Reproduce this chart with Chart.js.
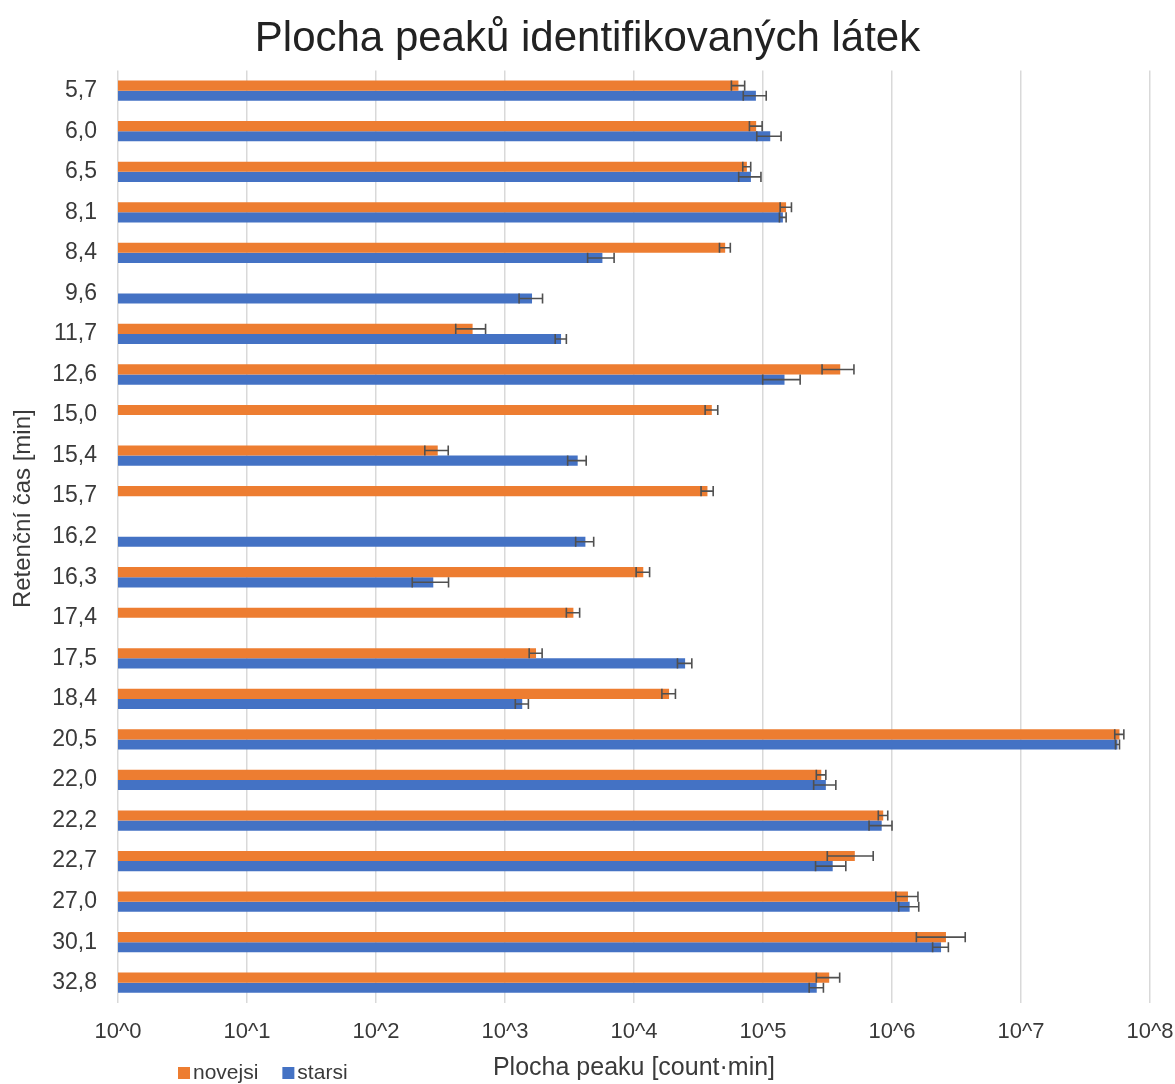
<!DOCTYPE html>
<html lang="cs">
<head>
<meta charset="utf-8">
<title>Plocha peaků identifikovaných látek</title>
<script src="https://cdn.jsdelivr.net/npm/chart.js@4.4.1/dist/chart.umd.min.js"></script>
<style>
  html, body { margin: 0; padding: 0; background: #ffffff; }
  #wrap { width: 1175px; height: 1084px; }
  canvas { display: block; }
</style>
</head>
<body>
<div id="wrap"><canvas id="chart" width="1175" height="1084"></canvas></div>
<script>
// Retention times (min) of the identified compounds
const categories = ['5,7', '6,0', '6,5', '8,1', '8,4', '9,6', '11,7', '12,6', '15,0', '15,4', '15,7',
  '16,2', '16,3', '17,4', '17,5', '18,4', '20,5', '22,0', '22,2', '22,7', '27,0', '30,1', '32,8'];

const seriesNames = ['novejsi', 'starsi'];

// Peak areas [count·min]; null = compound not found in that sample
const novejsi = [64500, 88500, 75000, 151000, 50900, null, 561, 397000, 40100, 301, 37100,
  null, 11800, 3390, 1740, 18700, 58000000, 283000, 855000, 515000, 1330000, 2620000, 326000];
const novejsiErr = [7600, 10000, 5300, 15200, 4900, null, 146, 110000, 4500, 62, 4000,
  null, 1410, 400, 200, 2250, 4700000, 24000, 72000, 200000, 259000, 1075000, 67000];

const starsi = [88100, 113800, 80600, 142600, 5690, 1620, 2720, 146800, null, 3660, null,
  4200, 278, null, 24900, 1360, 56000000, 307000, 832000, 347000, 1370000, 2400000, 261000];
const starsiErr = [17800, 24300, 15800, 8500, 1320, 334, 270, 47300, null, 600, null,
  670, 87, null, 3170, 158, 2000000, 60000, 168000, 91500, 242000, 335000, 33000];

// Logarithmic axis: one tick per decade
const xTickValues = [1, 10, 100, 1000, 10000, 100000, 1000000, 10000000, 100000000];
const xTickLabels = ['10^0', '10^1', '10^2', '10^3', '10^4', '10^5', '10^6', '10^7', '10^8'];

const chartTitle = 'Plocha peaků identifikovaných látek';
const xTitle = 'Plocha peaku [count·min]';
const yTitle = 'Retenční čas [min]';

const FONT = "'Liberation Sans', Arial, sans-serif";
const TEXT = '#3a3a3a';

// Whiskers: value ± error, with end caps
const errorBars = {
  id: 'errorBars',
  afterDatasetsDraw(chart) {
    const { ctx } = chart;
    const xs = chart.scales.x;
    ctx.save();
    ctx.strokeStyle = '#505050';
    ctx.lineWidth = 1.6;
    chart.data.datasets.forEach((ds, di) => {
      const meta = chart.getDatasetMeta(di);
      if (meta.hidden) return;
      meta.data.forEach((el, i) => {
        const v = ds.data[i];
        const e = ds.errors[i];
        if (v == null || e == null) return;
        const y = el.y;
        const h = el.height * 0.5;
        const lo = Math.max(v - e, xs.min);
        const xl = xs.getPixelForValue(lo);
        const xr = xs.getPixelForValue(v + e);
        ctx.beginPath();
        ctx.moveTo(xl, y); ctx.lineTo(xr, y);
        ctx.moveTo(xl, y - h); ctx.lineTo(xl, y + h);
        ctx.moveTo(xr, y - h); ctx.lineTo(xr, y + h);
        ctx.stroke();
      });
    });
    ctx.restore();
  }
};

// Vertical axis title and the legend row beside the horizontal axis title
const extras = {
  id: 'extras',
  afterDraw(chart) {
    const { ctx, chartArea } = chart;
    ctx.save();
    ctx.fillStyle = TEXT;
    ctx.font = '24px ' + FONT;
    ctx.textAlign = 'center';
    ctx.textBaseline = 'middle';
    ctx.translate(23, (chartArea.top + chartArea.bottom) / 2 - 28);
    ctx.rotate(-Math.PI / 2);
    ctx.fillText(yTitle, 0, 0);
    ctx.restore();

    ctx.save();
    ctx.font = '21px ' + FONT;
    ctx.textBaseline = 'middle';
    ctx.textAlign = 'left';
    let x = 178;
    const yc = 1073;
    chart.data.datasets.forEach(ds => {
      ctx.fillStyle = ds.backgroundColor;
      ctx.fillRect(x, yc - 6, 12, 12);
      x += 15;
      ctx.fillStyle = TEXT;
      ctx.fillText(ds.label, x, yc);
      x += ctx.measureText(ds.label).width + 24;
    });
    ctx.restore();
  }
};

new Chart(document.getElementById('chart'), {
  type: 'bar',
  data: {
    labels: categories,
    datasets: [
      { label: seriesNames[0], data: novejsi, errors: novejsiErr, backgroundColor: '#ED7D31',
        categoryPercentage: 0.5, barPercentage: 1.0 },
      { label: seriesNames[1], data: starsi, errors: starsiErr, backgroundColor: '#4472C4',
        categoryPercentage: 0.5, barPercentage: 1.0 }
    ]
  },
  options: {
    indexAxis: 'y',
    responsive: false,
    animation: false,
    layout: { padding: { left: 0, right: 0, top: 0, bottom: 0 } },
    plugins: {
      legend: { display: false },
      tooltip: { enabled: false },
      title: {
        display: true,
        text: chartTitle,
        color: '#222222',
        font: { family: FONT, size: 42, weight: 'normal', lineHeight: 1.2 },
        padding: { top: 14, bottom: 6 }
      }
    },
    scales: {
      x: {
        type: 'logarithmic',
        position: 'bottom',
        min: 1,
        max: 100000000,
        afterBuildTicks: s => { s.ticks = xTickValues.map(v => ({ value: v })); },
        afterFit: s => { s.height = 81; s.paddingRight = 25; s.paddingLeft = 0; },
        ticks: {
          autoSkip: false,
          maxRotation: 0,
          padding: 16,
          color: TEXT,
          font: { family: FONT, size: 22 },
          callback: (v, i) => xTickLabels[i]
        },
        grid: { color: '#d9d9d9', lineWidth: 1.5, drawTicks: false },
        border: { display: false },
        title: {
          display: true,
          text: xTitle,
          color: TEXT,
          font: { family: FONT, size: 25, lineHeight: 1.2 },
          padding: { top: 0, bottom: 1 }
        }
      },
      y: {
        afterFit: s => { s.width = 118; },
        ticks: {
          color: TEXT,
          padding: 21,
          autoSkip: false,
          font: { family: FONT, size: 23 }
        },
        grid: { display: false, drawTicks: false },
        border: { display: false }
      }
    }
  },
  plugins: [errorBars, extras]
});
</script>
</body>
</html>
